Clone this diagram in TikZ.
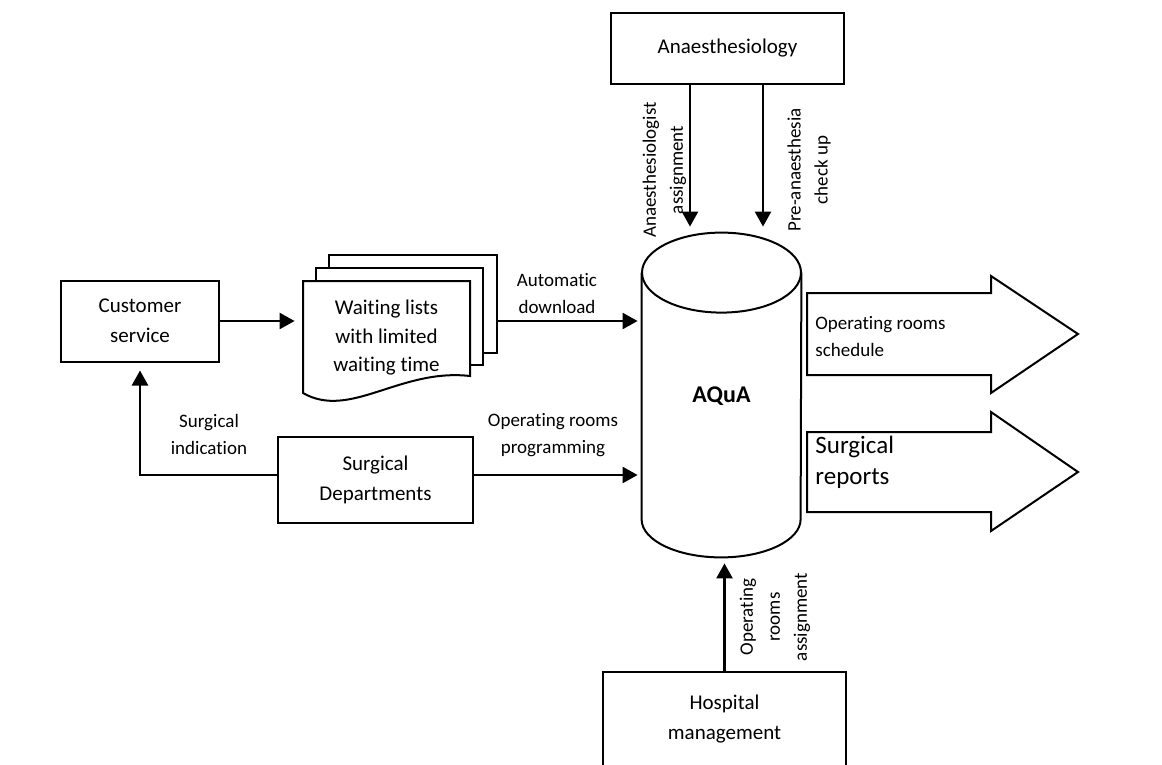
\documentclass[tikz,border=0pt]{standalone}
\usepackage{fontspec}
\setmainfont{Carlito}[Ligatures=CommonOff]
\usetikzlibrary{arrows.meta,positioning}

\begin{document}
\begin{tikzpicture}[x=1pt,y=-1pt,thick,
  box/.style={draw,line width=2pt,align=center,inner sep=0pt,font=\fontsize{21}{30}\selectfont},
  sheet/.style={draw,fill=white,line width=2pt,inner sep=0pt},
  flow/.style={line width=2.4pt,-{Triangle[length=15pt,width=16pt]}},
  lbl/.style={align=center,inner sep=0pt,font=\fontsize{19}{27}\selectfont}]

\useasboundingbox (0,0) rectangle (1162,765);
\clip (0,0) rectangle (1162,765);

% Boxes
\node[box,minimum width=233pt,minimum height=71pt] (anaes) at (727.5,48.5) {Anaesthesiology};
\node[box,minimum width=158pt,minimum height=81pt] (cust) at (140,321) {Customer\\service};
\node[box,minimum width=195pt,minimum height=86pt] (sdept) at (375.5,480) {Surgical\\Departments};
\node[box,minimum width=243pt,minimum height=94pt] (hosp) at (724.5,719) {Hospital\\management};

% Waiting lists (stack of sheets)
\node[sheet,minimum width=168pt,minimum height=98pt] (wsheet3) at (413,304) {};
\node[sheet,minimum width=167pt,minimum height=97pt] (wsheet2) at (399.5,316.5) {};
\draw[line width=2pt,fill=white] (303,281) -- (470,281) -- (470,376) .. controls (400,368) and (350,420) .. (303,393) -- cycle;
\node[lbl,minimum width=167pt,font=\fontsize{21}{28.5}\selectfont] (wlist) at (386.5,338) {Waiting lists\\with limited\\waiting time};

% AQuA database
\node[minimum width=159pt,minimum height=246pt,inner sep=0pt,font=\bfseries\fontsize{24}{29}\selectfont] (aqua) at (721.5,396) {AQuA};
\draw[line width=2pt] (aqua.north west) -- (aqua.south west) arc[start angle=180,end angle=360,x radius=79.5pt,y radius=38pt] -- (aqua.north east);
\draw[line width=2pt] (aqua.north) ellipse[x radius=79.5pt,y radius=40pt];

% Outputs
\draw[line width=2pt] (807,293) -- (991,293) -- (991,276) -- (1078,334) -- (991,393) -- (991,375) -- (807,375) -- cycle;
\draw[line width=2pt] (807,432) -- (991,432) -- (991,412) -- (1078,472) -- (991,531) -- (991,512) -- (807,512) -- cycle;
\node[lbl,anchor=west,align=left] (schedlbl) at (815,336.5) {Operating rooms\\schedule};
\node[lbl,anchor=west,align=left,font=\fontsize{25}{31}\selectfont] (replbl) at (815,462.5) {Surgical\\reports};

% Flows
\draw[flow,shorten >=8pt] (cust.east) -- (cust.east -| wlist.west);
\draw[flow,shorten >=4pt] (cust.east -| wsheet3.east) -- (cust.east -| aqua.west);
\draw[flow,shorten >=4pt] ([yshift=5pt]sdept.east) -- ([yshift=5pt]sdept.east -| aqua.west);
\draw[flow,shorten >=8pt] ([yshift=5pt]sdept.west) -| (cust.south);
\draw[flow,shorten >=46pt] ([xshift=-37.5pt]anaes.south) -- ([xshift=-37.5pt]anaes.south |- aqua.north);
\draw[flow,shorten >=46pt] ([xshift=35.5pt]anaes.south) -- ([xshift=35.5pt]anaes.south |- aqua.north);
\draw[flow,shorten >=44pt] (hosp.north) -- (hosp.north |- aqua.south);

% Labels
\node[lbl] (autolbl) at (557,293.5) {Automatic\\download};
\node[lbl] (progrlbl) at (553,435) {Operating rooms\\programming};
\node[lbl] (indiclbl) at (209,434.5) {Surgical\\indication};
\node[lbl,rotate=90] (asslbl) at (664.5,170) {Anaesthesiologist\\assignment};
\node[lbl,rotate=90] (checklbl) at (809,170) {Pre-anaesthesia\\check up};
\node[lbl,rotate=90] (orlbl) at (775,617) {Operating\\rooms\\assignment};

\end{tikzpicture}
\end{document}
